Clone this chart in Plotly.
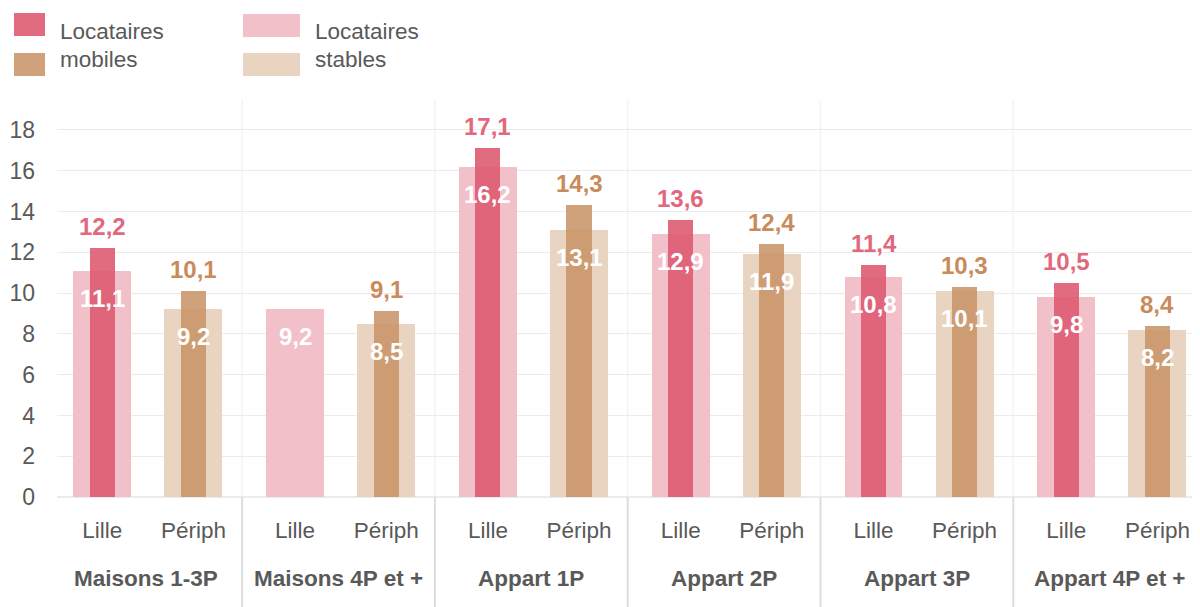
import plotly.graph_objects as go

groups = ["Maisons 1-3P", "Maisons 4P et +", "Appart 1P", "Appart 2P", "Appart 3P", "Appart 4P et +"]
zones = ["Lille", "Périph"]
mobile_lille = [12.2, None, 17.1, 13.6, 11.4, 10.5]
mobile_periph = [10.1, 9.1, 14.3, 12.4, 10.3, 8.4]
stable_lille = [11.1, 9.2, 16.2, 12.9, 10.8, 9.8]
stable_periph = [9.2, 8.5, 13.1, 11.9, 10.1, 8.2]
y_ticks = [0, 2, 4, 6, 8, 10, 12, 14, 16, 18]

FONT = "Liberation Sans, Arial, sans-serif"
TXT = "#595959"
C_ML = "rgba(221,88,110,0.88)"
C_MP = "rgba(200,146,100,0.85)"
C_SL = "#F2C0C8"
C_SP = "#E8D4C0"
LBL_L = "#E2687E"
LBL_P = "#C98B5B"

# page body has an 8px margin: screen coords = figure coords + 8
OFF = 8
W, H = 1200 - OFF, 607 - OFF
ML, MR, MT = 57 - OFF, 0, 100 - OFF
MB = H - (497 - OFF)
PW, PH = W - ML - MR, H - MT - MB

def px(xs):
    return (xs - OFF - ML) / PW

def py(ys):
    return (H - MB - (ys - OFF)) / PH

x_l = [2 * i + 0.55 for i in range(len(groups))]
x_p = [2 * i + 1.495 for i in range(len(groups))]

fig = go.Figure()
fig.add_bar(x=x_l, y=stable_lille, width=0.6, marker_color=C_SL, marker_line_width=0, hoverinfo="y")
fig.add_bar(x=x_p, y=stable_periph, width=0.6, marker_color=C_SP, marker_line_width=0, hoverinfo="y")
fig.add_bar(x=x_l, y=mobile_lille, width=0.26, marker_color=C_ML, marker_line_width=0, hoverinfo="y")
fig.add_bar(x=x_p, y=mobile_periph, width=0.26, marker_color=C_MP, marker_line_width=0, hoverinfo="y")

def fmt(v):
    return f"{v:.1f}".replace(".", ",")

ann = []
for xs, vals, col in [(x_l, mobile_lille, LBL_L), (x_p, mobile_periph, LBL_P)]:
    for x, v in zip(xs, vals):
        if v is None:
            continue
        ann.append(dict(x=x, y=v, xref="x", yref="y", text=fmt(v), showarrow=False,
                        yanchor="bottom", yshift=6,
                        font=dict(family=FONT, size=24, color=col, weight="bold")))
for xs, vals in [(x_l, stable_lille), (x_p, stable_periph)]:
    for x, v in zip(xs, vals):
        ann.append(dict(x=x, y=v, xref="x", yref="y", text=fmt(v), showarrow=False,
                        yanchor="top", yshift=-12,
                        font=dict(family=FONT, size=24, color="white", weight="bold")))

# group labels
for i, g in enumerate(groups):
    ann.append(dict(x=2 * i + 1, y=py(578), xref="x", yref="paper", text=g, showarrow=False,
                    yanchor="middle", font=dict(family=FONT, size=22.5, color=TXT, weight="bold")))

shapes = []
for i in range(1, len(groups)):
    shapes.append(dict(type="line", xref="x", yref="paper", x0=2 * i, x1=2 * i, y0=0, y1=1,
                       line=dict(color="#F6F6F6", width=2), layer="below"))
    shapes.append(dict(type="line", xref="x", yref="paper", x0=2 * i, x1=2 * i, y0=0, y1=py(607),
                       line=dict(color="#DCDCDC", width=2)))

# custom legend
legend_items = [
    (14, 45, 13, 36, C_ML), (14, 45, 53, 76, C_MP),
    (243, 300, 14, 37, C_SL), (243, 300, 53, 76, C_SP),
]
for x0, x1, y0, y1, col in legend_items:
    shapes.append(dict(type="rect", xref="paper", yref="paper", x0=px(x0), x1=px(x1),
                       y0=py(y1), y1=py(y0), fillcolor=col, line_width=0))
for xp, yp, t in [(58, 31, "Locataires"), (58, 60, "mobiles"), (313, 31, "Locataires"), (313, 60, "stables")]:
    ann.append(dict(x=px(xp), y=py(yp), xref="paper", yref="paper", text=t, showarrow=False,
                    xanchor="left", yanchor="middle", font=dict(family=FONT, size=22.5, color=TXT)))

fig.update_layout(
    width=W, height=H, barmode="overlay", showlegend=False,
    margin=dict(l=ML, r=MR, t=MT, b=MB),
    paper_bgcolor="white", plot_bgcolor="white",
    font=dict(family=FONT, color=TXT),
    annotations=ann, shapes=shapes,
    bargap=0,
)
fig.update_xaxes(range=[0.08, 0.08 + PW / 96.4], tickvals=x_l + x_p,
                 ticktext=[zones[0]] * len(groups) + [zones[1]] * len(groups),
                 showgrid=False, zeroline=False, showline=False, ticks="",
                 tickfont=dict(family=FONT, size=22.5, color=TXT), ticklabelstandoff=17)
fig.update_yaxes(range=[0, PH / 20.39], tickvals=y_ticks, showgrid=True, gridcolor="#EBEBEB",
                 gridwidth=1, zeroline=True, zerolinecolor="#EBEBEB", zerolinewidth=2,
                 showline=False, ticks="", tickfont=dict(family=FONT, size=23, color=TXT),
                 ticklabelstandoff=21)

fig.write_html("out.html")
